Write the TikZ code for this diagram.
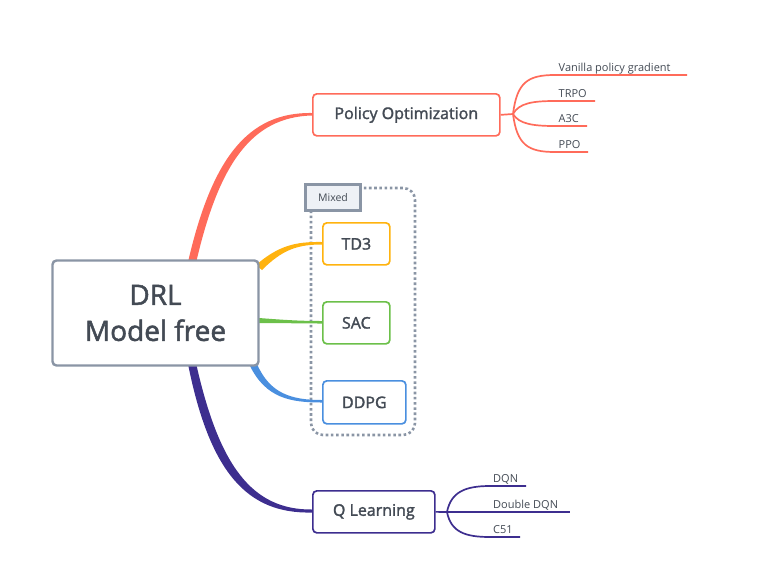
\documentclass[tikz,border=0pt]{standalone}
\usepackage{fontspec}
\setmainfont{Open Sans}
\newfontfamily\semib{Open Sans}[FakeBold=1.8]
\definecolor{txt}{HTML}{434A54}
\definecolor{cgray}{HTML}{8A95A5}
\definecolor{cpo}{HTML}{FF6B5A}
\definecolor{ctd}{HTML}{FFB30F}
\definecolor{csac}{HTML}{6CC04A}
\definecolor{cddpg}{HTML}{4A8FDF}
\definecolor{cq}{HTML}{3D2E8F}
\definecolor{mixfill}{HTML}{EEF1F6}
\tikzset{
  topic/.style={draw, line width=1.7pt, rounded corners=4pt, fill=white, text=txt, font=\semib\fontsize{16}{19}\selectfont, inner sep=0pt, anchor=north west},
  leaf/.style={text=txt, font=\fontsize{11}{13}\selectfont, inner sep=0pt, anchor=base west},
  branch/.style={line width=1.7pt},
}
\begin{document}
\begin{tikzpicture}[x=1pt,y=-1pt]
\useasboundingbox (0,0) rectangle (770,584);
% main connectors (tapered)
\fill[cpo] (188,262) .. controls (212,158) and (248,112) .. (312,113) -- (312,115.5) .. controls (252,117) and (219,163) .. (196,263) -- cycle;
\fill[cq] (188,364) .. controls (210,474) and (248,514) .. (312,512.5) -- (312,509.5) .. controls (252,510) and (219,466) .. (196,363) -- cycle;
% mixed dotted region
\draw[cgray, line width=2.6pt, dash pattern=on 2.6pt off 2.6pt, rounded corners=12pt] (311,188) rectangle (415,435);
\fill[ctd] (256,265) .. controls (278,246) and (295,241.5) .. (322,242) -- (322,244.5) .. controls (297,244.5) and (282,250) .. (262,270) -- cycle;
\fill[csac] (259,318) .. controls (285,320) and (300,321) .. (322,321) -- (322,323.5) .. controls (300,323.5) and (285,323) .. (259,323) -- cycle;
\fill[cddpg] (250,366) .. controls (266,398) and (290,402.5) .. (322,402.5) -- (322,400) .. controls (292,400) and (270,394) .. (257,364) -- cycle;
\node[draw=cgray, line width=2.4pt, fill=mixfill, text=txt, font=\fontsize{10.5}{12}\selectfont, minimum width=55pt, minimum height=26pt, inner sep=0pt] (mixed) at (333,197.5) {Mixed};
% central topic
\node[draw=cgray, line width=2.4pt, rounded corners=4pt, fill=white, text=txt, font=\semib\fontsize{28}{36}\selectfont, align=center, minimum width=206pt, minimum height=105pt, inner sep=0pt] (drl) at (155.5,313) {DRL\\Model free};
% topics
\node[topic, draw=cpo, minimum width=187pt, minimum height=42pt] (po) at (312,93) {Policy Optimization};
\node[topic, draw=ctd, minimum width=67pt, minimum height=42pt] (td3) at (322,222) {TD3};
\node[topic, draw=csac, minimum width=67pt, minimum height=42pt] (sac) at (322,301) {SAC};
\node[topic, draw=cddpg, minimum width=83pt, minimum height=43pt] (ddpg) at (322,380) {DDPG};
\node[topic, draw=cq, minimum width=122pt, minimum height=42pt] (ql) at (312,490) {Q Learning};
% policy optimization branches
\coordinate (pohub) at (513,114);
\draw[cpo, branch] (po.east) -- (pohub);
\node[leaf] (vpg) at (558.5,71) {Vanilla policy gradient};
\node[leaf] (trpo) at (558.5,97) {TRPO};
\node[leaf] (a3c) at (558.5,122) {A3C};
\node[leaf] (ppo) at (558.5,148) {PPO};
\coordinate (vpgE) at (687,75);
\coordinate (trpoE) at (595,101);
\coordinate (a3cE) at (587,126);
\coordinate (ppoE) at (588,152);
\draw[cpo, branch] (pohub) .. controls (517,82) and (528,75) .. (555,75) -- (vpgE);
\draw[cpo, branch] (pohub) .. controls (519,103) and (533,101) .. (555,101) -- (trpoE);
\draw[cpo, branch] (pohub) .. controls (519,124) and (533,126) .. (555,126) -- (a3cE);
\draw[cpo, branch] (pohub) .. controls (517,145) and (528,152) .. (555,152) -- (ppoE);
% Q learning branches
\coordinate (qhub) at (447,512);
\draw[cq, branch] (ql.east) -- (qhub);
\node[leaf] (dqn) at (493,482) {DQN};
\node[leaf] (ddqn) at (493,508) {Double DQN};
\node[leaf] (c51) at (493,533) {C51};
\coordinate (dqnE) at (526,486);
\coordinate (ddqnE) at (570,512);
\coordinate (c51E) at (520,537);
\draw[cq, branch] (qhub) .. controls (451,492) and (465,486) .. (490,486) -- (dqnE);
\draw[cq, branch] (qhub) -- (ddqnE);
\draw[cq, branch] (qhub) .. controls (451,532) and (465,537) .. (490,537) -- (c51E);
\end{tikzpicture}
\end{document}
